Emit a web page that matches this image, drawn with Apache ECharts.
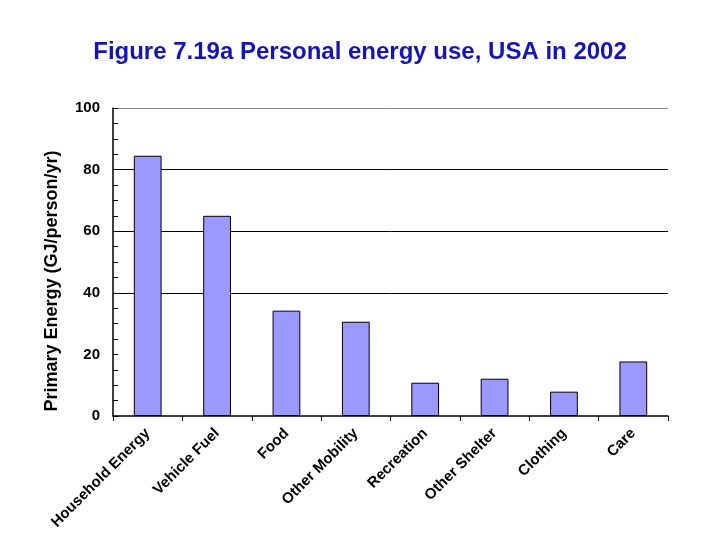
<!DOCTYPE html>
<html>
<head>
<meta charset="utf-8">
<script src="https://cdn.jsdelivr.net/npm/echarts@6/dist/echarts.min.js"></script>
<style>html,body{margin:0;padding:0;background:#fff;}#c{width:720px;height:540px;}</style>
</head>
<body>
<div id="c"></div>
<script>
const categories = ['Household Energy','Vehicle Fuel','Food','Other Mobility','Recreation','Other Shelter','Clothing','Care'];
const values = [84.5, 65.0, 34.2, 30.6, 10.8, 12.1, 7.9, 17.7];
const yTicks = [0, 20, 40, 60, 80, 100];

const chart = echarts.init(document.getElementById('c'));
chart.setOption({
  backgroundColor: '#fff',
  animation: false,
  title: {
    text: 'Figure 7.19a Personal energy use, USA in 2002',
    left: 'center', top: 35,
    textStyle: {fontFamily: 'Liberation Sans, Arial', fontSize: 24, fontWeight: 'bold', color: '#1515b5'}
  },
  grid: {left: 113, right: 52, top: 108, bottom: 124, containLabel: false},
  xAxis: {
    type: 'category',
    data: categories,
    axisLine: {lineStyle: {color: '#000', width: 1.5}},
    axisTick: {show: true, inside: false, length: 5, lineStyle: {color: '#000'}},
    axisLabel: {
      rotate: 45, interval: 0, margin: 15,
      fontFamily: 'Liberation Sans, Arial', fontSize: 15, fontWeight: 'bold', color: '#000'
    },
    splitLine: {show: false}
  },
  yAxis: {
    type: 'value',
    min: yTicks[0], max: yTicks[yTicks.length - 1], interval: 20,
    name: 'Primary Energy (GJ/person/yr)',
    nameLocation: 'middle', nameGap: 52, nameRotate: 90,
    nameTextStyle: {fontFamily: 'Liberation Sans, Arial', fontSize: 18, fontWeight: 'bold', color: '#000', padding: [0, 38, 0, 0]},
    axisLine: {show: true, lineStyle: {color: '#000', width: 1.5}},
    axisTick: {show: true, inside: true, length: 5, lineStyle: {color: '#000'}},
    minorTick: {show: true, splitNumber: 4, length: 5, lineStyle: {color: '#000'}},
    axisLabel: {fontFamily: 'Liberation Sans, Arial', fontSize: 15, fontWeight: 'bold', color: '#000', margin: 13},
    splitLine: {show: true, lineStyle: {color: ['transparent', 'transparent', '#000', '#000', '#000', '#888'], width: 1}}
  },
  series: [{
    type: 'bar',
    data: values,
    barWidth: '40%',
    itemStyle: {color: '#9999ff', borderColor: '#000', borderWidth: 1}
  }]
});
</script>
</body>
</html>
